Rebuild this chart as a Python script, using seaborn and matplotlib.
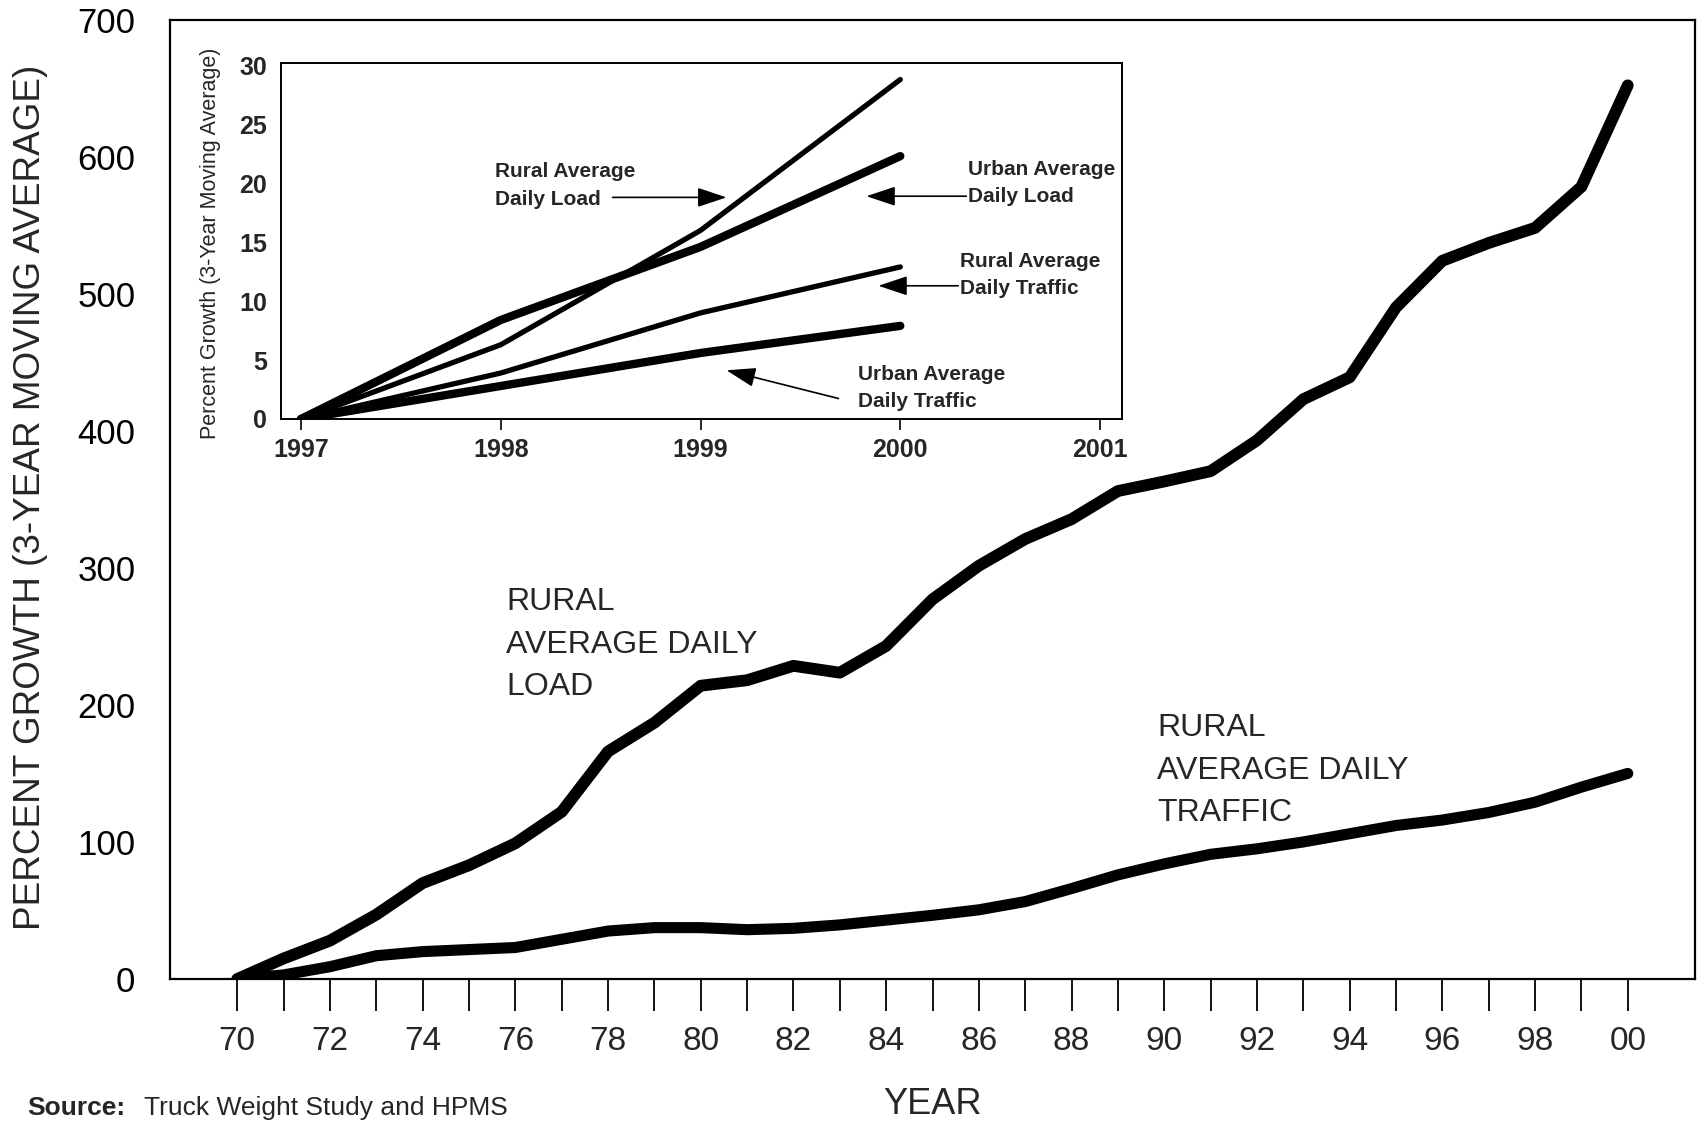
import matplotlib

matplotlib.use("Agg")

import matplotlib.pyplot as plt
from matplotlib import font_manager
import pandas as pd
import seaborn as sns

# main chart: percent growth, 3-year moving average
years = list(range(1970, 2001))
rural_load = [0, 15, 28, 47, 70, 83, 99, 122, 166, 187, 214, 218, 228.5, 223.5, 243,
              277, 301.5, 321, 335.5, 356, 363, 370.5, 393, 423, 439, 490, 524, 537,
              548, 578, 652]
rural_traffic = [0, 3, 9, 17, 20, 21.5, 23, 29, 35, 37.5, 37.5, 36, 37, 39.5, 43,
                 46.5, 50.5, 56.5, 66, 76, 84, 91, 95, 100, 106, 112, 116, 121.5,
                 129, 140, 150]
year_ticks = list(range(1970, 2001, 2))
year_labels = ["70", "72", "74", "76", "78", "80", "82", "84", "86", "88", "90",
               "92", "94", "96", "98", "00"]

# inset: 1997-2000
inset_years = [1997, 1998, 1999, 2000]
inset_rural_load = [0, 6.3, 16.0, 28.8]
inset_urban_load = [0, 8.4, 14.6, 22.3]
inset_rural_traffic = [0, 3.9, 9.0, 12.9]
inset_urban_traffic = [0, 2.8, 5.6, 7.9]

sns.set_theme(style="white")
plt.rcParams["font.family"] = ["Liberation Sans", "DejaVu Sans"]

installed = {f.name for f in font_manager.fontManager.ttflist}
narrow = "Liberation Sans Narrow" if "Liberation Sans Narrow" in installed else "Liberation Sans"
xtick_size = 29 if narrow == "Liberation Sans Narrow" else 24

fig = plt.figure(figsize=(16.97, 11.23), dpi=100)
ax = fig.add_axes([0.1002, 0.1282, 0.8986, 0.8544])

main_df = pd.DataFrame({"year": years, "load": rural_load, "traffic": rural_traffic})
line_kw = dict(color="black", solid_capstyle="round", solid_joinstyle="round")
sns.lineplot(data=main_df, x="year", y="load", ax=ax, lw=8.5, **line_kw)
sns.lineplot(data=main_df, x="year", y="traffic", ax=ax, lw=8, **line_kw)

ax.set_xlim(1968.55, 2001.45)
ax.set_ylim(0, 700)
ax.set_xticks(year_ticks)
ax.set_xticklabels(year_labels, family=narrow, fontsize=xtick_size)
ax.set_xticks(list(range(1971, 2000, 2)), minor=True)
ax.tick_params(axis="x", which="both", direction="out", length=23, width=1.3,
               color="black", pad=11, bottom=True)
ax.set_yticks(range(0, 701, 100))
ax.tick_params(axis="y", length=0, pad=25, labelsize=25, colors="black")
for sp in ax.spines.values():
    sp.set_color("black")
    sp.set_linewidth(1.6)

ax.set_xlabel("YEAR", fontsize=26)
ax.xaxis.set_label_coords(0.5, -0.1303)
ax.xaxis.label.set_va("center")
ax.set_ylabel("PERCENT GROWTH (3-YEAR MOVING AVERAGE)", fontsize=26.6)
ax.yaxis.set_label_coords(-0.0918, 0.502)
ax.yaxis.label.set_va("center")

ax.text(1975.8, 244, "RURAL\nAVERAGE DAILY\nLOAD", ha="left", va="center",
        fontsize=23, linespacing=1.55)
ax.text(1989.85, 152, "RURAL\nAVERAGE DAILY\nTRAFFIC", ha="left", va="center",
        fontsize=23, linespacing=1.55)

# inset
ins = fig.add_axes([0.1656, 0.6269, 0.4956, 0.317])
ins.set_facecolor("white")
inset_df = pd.DataFrame({
    "year": inset_years,
    "rural_load": inset_rural_load,
    "urban_load": inset_urban_load,
    "rural_traffic": inset_rural_traffic,
    "urban_traffic": inset_urban_traffic,
})
sns.lineplot(data=inset_df, x="year", y="rural_load", ax=ins, lw=3.8, **line_kw)
sns.lineplot(data=inset_df, x="year", y="urban_load", ax=ins, lw=6, **line_kw)
sns.lineplot(data=inset_df, x="year", y="rural_traffic", ax=ins, lw=3.8, **line_kw)
sns.lineplot(data=inset_df, x="year", y="urban_traffic", ax=ins, lw=6, **line_kw)

ins.set_xlim(1996.9, 2001.11)
ins.set_ylim(0, 30.2)
ins.set_xticks(range(1997, 2002))
ins.set_xticklabels([str(y) for y in range(1997, 2002)], fontsize=18, weight="bold")
ins.set_yticks(range(0, 31, 5))
ins.set_yticklabels([str(v) for v in range(0, 31, 5)], fontsize=18, weight="bold")
ins.tick_params(axis="x", direction="out", length=8, width=1.2, color="black",
                pad=6, bottom=True)
ins.tick_params(axis="y", length=0, pad=10)
ins.set_xlabel("")
ins.set_ylabel("Percent Growth (3-Year Moving Average)", fontsize=15.5)
ins.yaxis.set_label_coords(-0.0713, 0.493)
for sp in ins.spines.values():
    sp.set_color("black")
    sp.set_linewidth(1.4)

note_kw = dict(ha="left", va="center", fontsize=15, weight="bold", linespacing=1.55)
ins.text(1997.97, 19.8, "Rural Average\nDaily Load", **note_kw)
ins.text(2000.34, 20.0, "Urban Average\nDaily Load", **note_kw)
ins.text(2000.30, 12.2, "Rural Average\nDaily Traffic", **note_kw)
ins.text(1999.79, 2.66, "Urban Average\nDaily Traffic", **note_kw)

arrow = dict(arrowstyle="-|>,head_length=0.9,head_width=0.3", color="black",
             lw=1.2, mutation_scale=20, shrinkA=0, shrinkB=0)
ins.annotate("", xy=(1999.13, 18.8), xytext=(1998.56, 18.8), arrowprops=arrow)
ins.annotate("", xy=(1999.83, 18.9), xytext=(2000.33, 18.9), arrowprops=arrow)
ins.annotate("", xy=(1999.89, 11.3), xytext=(2000.29, 11.3), arrowprops=arrow)
ins.annotate("", xy=(1999.13, 4.13), xytext=(1999.69, 1.74), arrowprops=arrow)

src_y = 1 - 1096 / 1123
fig.text(27 / 1697, src_y, "Source:", fontsize=19, weight="bold", va="top")
fig.text(144 / 1697, src_y, "Truck Weight Study and HPMS", fontsize=19, va="top")

fig.savefig("out.png", dpi=100)
